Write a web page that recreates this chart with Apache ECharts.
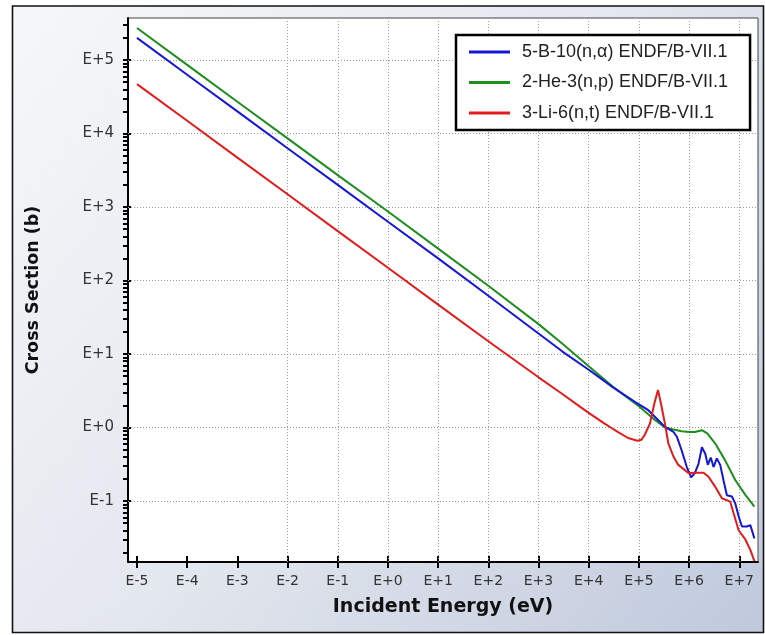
<!DOCTYPE html>
<html>
<head>
<meta charset="utf-8">
<title>Neutron capture cross sections</title>
<script src="https://cdn.jsdelivr.net/npm/echarts@6/dist/echarts.min.js"></script>
<style>
  html, body { margin: 0; padding: 0; background: #ffffff; }
  #chart { width: 765px; height: 635px; }
</style>
</head>
<body>
<div id="chart"></div>
<script>
// ENDF/B-VII.1 reaction cross sections (barns) versus incident neutron energy (eV)
const seriesNames = [
  '5-B-10(n,\u03b1) ENDF/B-VII.1',
  '2-He-3(n,p) ENDF/B-VII.1',
  '3-Li-6(n,t) ENDF/B-VII.1'
];

const energyB10 = [1e-5, 1e-4, 1e-3, 1e-2, 1e-1, 1, 10, 100, 1e3, 3e3, 1e4, 3e4, 8.3e4, 1e5, 1.54e5, 2.2e5,
  3.3e5, 4.9e5, 5.7e5, 7.1e5, 9.0e5, 1.1e6, 1.3e6, 1.54e6, 1.8e6, 2.1e6, 2.36e6, 2.7e6, 3.07e6,
  3.57e6, 4.17e6, 4.86e6, 5.66e6, 7.13e6, 8.3e6, 9.7e6, 1.13e7, 1.42e7, 1.66e7, 2.0e7];
const sigmaB10 = [2.0e5, 6.3e4, 2.0e4, 6.3e3, 2.0e3, 630, 200, 62, 19, 10.8, 6.1, 3.55, 2.24, 2.06, 1.72, 1.35,
  1.02, 0.87, 0.75, 0.49, 0.29, 0.21, 0.24, 0.32, 0.54, 0.44, 0.31, 0.39, 0.29,
  0.38, 0.31, 0.19, 0.12, 0.115, 0.093, 0.062, 0.045, 0.045, 0.047, 0.031];

const energyHe3 = [1e-5, 1e-4, 1e-3, 1e-2, 1e-1, 1, 10, 100, 1e3, 3e3, 1e4, 3e4, 1e5, 2e5, 3.3e5, 4.9e5,
  7.1e5, 1.0e6, 1.3e6, 1.8e6, 2.3e6, 3.3e6, 5.2e6, 8.3e6, 1.32e7, 2.0e7];
const sigmaHe3 = [2.73e5, 8.6e4, 2.7e4, 8.6e3, 2.72e3, 870, 272, 85, 25.5, 13.8, 6.8, 3.6, 1.95, 1.3, 1.0, 0.94,
  0.89, 0.87, 0.87, 0.92, 0.83, 0.61, 0.36, 0.193, 0.121, 0.084];

const energyLi6 = [1e-5, 1e-4, 1e-3, 1e-2, 1e-1, 1, 10, 100, 1e3, 2.8e3, 7e3, 1e4, 2e4, 2.75e4, 4e4, 6.1e4,
  9.3e4, 1.12e5, 1.3e5, 1.66e5, 2.03e5, 2.4e5, 2.75e5, 3.3e5, 3.86e5, 4.9e5, 6.1e5, 9.7e5, 1.42e6,
  1.94e6, 2.44e6, 3.3e6, 4.5e6, 6.6e6, 7.7e6, 9.7e6, 1.32e7, 1.66e7, 2.0e7];
const sigmaLi6 = [4.7e4, 1.49e4, 4.7e3, 1.49e3, 470, 149, 47, 14.9, 4.82, 2.95, 1.88, 1.58, 1.15, 1.0, 0.85, 0.72,
  0.66, 0.68, 0.79, 1.13, 2.12, 3.25, 2.12, 1.13, 0.61, 0.40, 0.31, 0.24, 0.243,
  0.243, 0.214, 0.157, 0.109, 0.098, 0.068, 0.040, 0.030, 0.0216, 0.0152];

// Decade ticks (labelled) on both axes
const energyTicks = [1e-5, 1e-4, 1e-3, 1e-2, 1e-1, 1, 10, 100, 1e3, 1e4, 1e5, 1e6, 1e7];
const sigmaTicks = [1e-1, 1, 10, 100, 1e3, 1e4, 1e5];

const xRange = [6.62e-6, 2.36e7];
const yRange = [0.0148, 3.73e5];

// Unlabelled minor ticks on the cross-section axis: 2..9 within each decade
const sigmaMinorTicks = [];
for (let p = -2; p <= 5; p++) {
  for (let m = 1; m <= 9; m++) {
    const v = m * Math.pow(10, p);
    if (v >= yRange[0] && v <= yRange[1]) sigmaMinorTicks.push(v);
  }
}

const colors = ['#1616d6', '#1e8e1e', '#e21c1c'];

function expLabel(v) {
  const p = Math.round(Math.log10(v));
  return 'E' + (p < 0 ? '-' : '+') + Math.abs(p);
}

function pairs(xs, ys) {
  return xs.map((x, i) => [x, ys[i]]);
}

const gridLineStyle = { color: '#9a9a9a', width: 1, type: [1, 2] };
const gridLines = energyTicks.map(v => ({ xAxis: v })).concat(sigmaTicks.map(v => ({ yAxis: v })));

const chart = echarts.init(document.getElementById('chart'), null, { renderer: 'canvas' });

chart.setOption({
  animation: false,
  color: colors,
  graphic: [{
    type: 'rect',
    z: -10,
    silent: true,
    shape: { x: 12.5, y: 6, width: 751, height: 626.5 },
    style: {
      fill: new echarts.graphic.LinearGradient(0, 0, 1, 1, [
        { offset: 0, color: '#f6f7f9' },
        { offset: 0.5, color: '#e3e7ee' },
        { offset: 1, color: '#bfc9dc' }
      ]),
      stroke: '#111',
      lineWidth: 1.6
    }
  }],
  grid: {
    left: 128, top: 18, width: 630, height: 544,
    show: true, backgroundColor: '#ffffff', borderColor: '#444', borderWidth: 1
  },
  legend: {
    data: seriesNames,
    orient: 'vertical',
    left: 456, top: 35,
    padding: [7, 22, 7, 13],
    itemGap: 10.5,
    itemWidth: 41, itemHeight: 3,
    icon: 'rect',
    backgroundColor: '#ffffff',
    borderColor: '#000000', borderWidth: 2.5,
    textStyle: { fontFamily: 'Liberation Sans', fontSize: 18, lineHeight: 20, color: '#222', padding: [0, 0, 0, 7] }
  },
  xAxis: [{
    type: 'log',
    min: xRange[0], max: xRange[1],
    position: 'bottom',
    name: 'Incident Energy (eV)',
    nameLocation: 'middle', nameGap: 36,
    nameTextStyle: { fontFamily: 'DejaVu Sans', fontWeight: 'bold', fontSize: 19, color: '#111' },
    axisLine: { onZero: false, lineStyle: { color: '#000', width: 2 } },
    axisTick: { customValues: energyTicks, length: 6, lineStyle: { color: '#000', width: 2 } },
    axisLabel: { customValues: energyTicks, formatter: expLabel, margin: 12, fontFamily: 'DejaVu Sans', fontSize: 14, color: '#333' },
    splitLine: { show: false }
  }, {
    type: 'log',
    min: xRange[0], max: xRange[1],
    position: 'bottom',
    axisLine: { show: false },
    axisTick: { customValues: energyTicks, inside: true, length: 6, lineStyle: { color: '#000', width: 2 } },
    axisLabel: { show: false },
    splitLine: { show: false }
  }],
  yAxis: [{
    type: 'log',
    min: yRange[0], max: yRange[1],
    position: 'left',
    name: 'Cross Section (b)',
    nameLocation: 'middle', nameGap: 86,
    nameTextStyle: { fontFamily: 'DejaVu Sans', fontWeight: 'bold', fontSize: 17.5, color: '#111' },
    axisLine: { onZero: false, lineStyle: { color: '#000', width: 2 } },
    axisTick: { customValues: sigmaMinorTicks, length: 5, lineStyle: { color: '#000', width: 2 } },
    axisLabel: { customValues: sigmaTicks, formatter: expLabel, margin: 14, fontFamily: 'DejaVu Sans', fontSize: 15, color: '#333' },
    splitLine: { show: false }
  }, {
    type: 'log',
    min: yRange[0], max: yRange[1],
    position: 'left',
    axisLine: { show: false },
    axisTick: { customValues: sigmaTicks, inside: true, length: 3, lineStyle: { color: '#000', width: 2 } },
    axisLabel: { show: false },
    splitLine: { show: false }
  }],
  series: [{
    name: seriesNames[0],
    type: 'line',
    showSymbol: false,
    data: pairs(energyB10, sigmaB10),
    lineStyle: { width: 2, color: colors[0] },
    z: 4,
    markLine: {
      silent: true,
      z: 1,
      symbol: ['none', 'none'],
      label: { show: false },
      lineStyle: gridLineStyle,
      emphasis: { disabled: true },
      data: gridLines
    }
  }, {
    name: seriesNames[1],
    type: 'line',
    showSymbol: false,
    data: pairs(energyHe3, sigmaHe3),
    lineStyle: { width: 2, color: colors[1] },
    z: 3
  }, {
    name: seriesNames[2],
    type: 'line',
    showSymbol: false,
    data: pairs(energyLi6, sigmaLi6),
    lineStyle: { width: 2, color: colors[2] },
    z: 5
  }]
});
</script>
</body>
</html>
